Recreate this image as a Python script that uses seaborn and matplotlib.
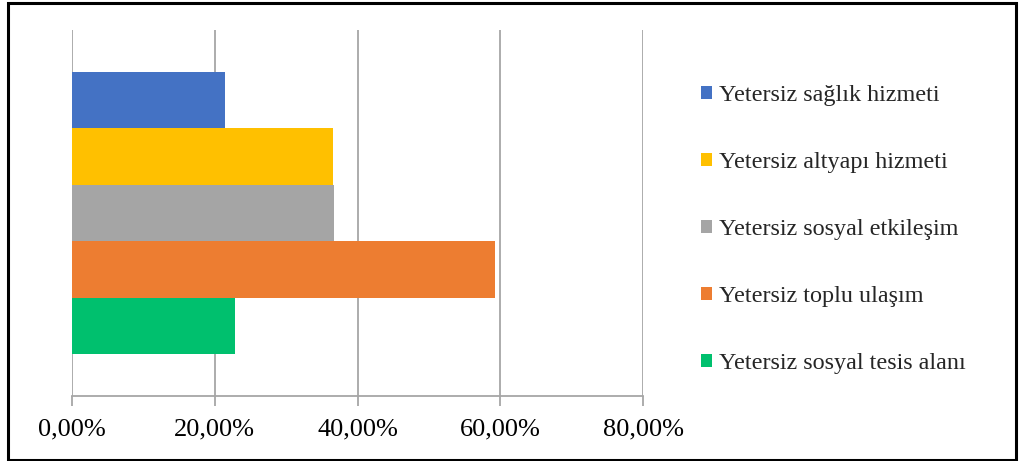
import matplotlib
matplotlib.use("Agg")
import matplotlib.pyplot as plt
from matplotlib.patches import Patch, Rectangle
from matplotlib.ticker import FuncFormatter
import seaborn as sns
import pandas as pd

# Shares of respondents naming each problem
series = [
    "Yetersiz sağlık hizmeti",
    "Yetersiz altyapı hizmeti",
    "Yetersiz sosyal etkileşim",
    "Yetersiz toplu ulaşım",
    "Yetersiz sosyal tesis alanı",
]
values = [21.5, 36.5, 36.7, 59.2, 22.9]
colors = ["#4472C4", "#FFC000", "#A5A5A5", "#ED7D31", "#00C06E"]
x_ticks = [0, 20, 40, 60, 80]

df = pd.DataFrame({"grup": ["Sorun"] * len(series), "seri": series, "deger": values})

sns.set_theme(style="white")
plt.rcParams["font.family"] = ["Liberation Serif", "DejaVu Serif"]

fig = plt.figure(figsize=(10.19, 4.61), dpi=100)
ax = fig.add_axes([72 / 1019, 1 - 396 / 461, (643 - 72) / 1019, (396 - 30) / 461])

sns.barplot(
    data=df, x="deger", y="grup", hue="seri", hue_order=series,
    palette=colors, orient="h", width=0.77, dodge=True,
    saturation=1, linewidth=0, legend=False, ax=ax, zorder=3,
)

ax.set_xlim(0, 80)
ax.set_ylim(0.5, -0.5)
ax.set_xticks(x_ticks)
ax.xaxis.set_major_formatter(FuncFormatter(lambda v, p: f"{v:.2f}".replace(".", ",") + "%"))
ax.set_yticks([])
ax.set_xlabel("")
ax.set_ylabel("")

grid_color = "#A6A6A6"
ax.grid(axis="x", color=grid_color, linewidth=1.3, zorder=0)
ax.set_axisbelow(True)
for side in ["left", "right", "top"]:
    ax.spines[side].set_visible(False)
ax.spines["bottom"].set_color(grid_color)
ax.spines["bottom"].set_linewidth(1.3)
ax.tick_params(axis="x", bottom=True, length=7, width=1.3, color=grid_color,
               labelsize=19, labelcolor="black", pad=9)

handles = [Patch(facecolor=c, edgecolor="none") for c in colors]
fig.legend(
    handles, series, loc="center left", bbox_to_anchor=(701 / 1019, 1 - 229.5 / 461),
    frameon=False, fontsize=17.4, handlelength=0.46, handleheight=0.46,
    handletextpad=0.3, labelspacing=1.9, borderpad=0, borderaxespad=0,
)

fig.patches.append(Rectangle((8 / 1019, 1.5 / 461), (1016 - 8) / 1019, (458 - 1.5) / 461,
                             transform=fig.transFigure, fill=False,
                             edgecolor="black", linewidth=2.2))

fig.savefig("out.png", dpi=100, facecolor="white")
